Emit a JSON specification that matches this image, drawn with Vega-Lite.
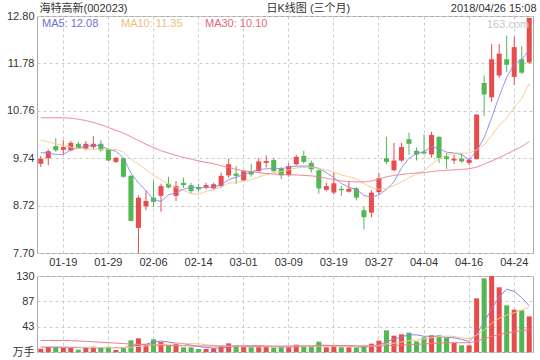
{
"$schema": "https://vega.github.io/schema/vega-lite/v6.json",
"padding": {"left": 5, "top": 1, "right": 2, "bottom": 2},
"background": "white",
"config": {
  "font": "Liberation Sans, Noto Sans CJK SC",
  "view": {"stroke": "#aaaaaa", "strokeWidth": 1},
  "axis": {"labelFont": "Liberation Sans, Noto Sans CJK SC", "labelFontSize": 11, "labelColor": "#333333", "ticks": false, "tickSize": 0, "domain": false, "gridColor": "#cccccc", "gridDash": [3, 3], "gridWidth": 1, "labelPadding": 3, "titleFont": "Liberation Sans, Noto Sans CJK SC", "titleFontSize": 11, "titleFontWeight": "normal", "titleColor": "#333333"}
},
"datasets": {"k": [
{"d":"01-16","o":9.62,"h":9.79,"l":9.55,"c":9.73,"v":5.7,"m5":9.86,"m10":10.13,"m30":10.61,"v5":8.5,"v10":9.5,"v30":19.7},
{"d":"01-17","o":9.74,"h":9.93,"l":9.59,"c":9.89,"v":9.1,"m5":9.85,"m10":10.09,"m30":10.61,"v5":8.3,"v10":9.3,"v30":19.7},
{"d":"01-18","o":10.00,"h":10.17,"l":9.88,"c":9.91,"v":9.1,"m5":9.82,"m10":10.05,"m30":10.61,"v5":8.0,"v10":9.0,"v30":19.7},
{"d":"01-19","o":9.92,"h":10.13,"l":9.82,"c":9.98,"v":8.0,"m5":9.82,"m10":10.01,"m30":10.61,"v5":8.0,"v10":8.8,"v30":19.7},
{"d":"01-22","o":9.91,"h":10.11,"l":9.89,"c":10.07,"v":6.8,"m5":9.92,"m10":9.98,"m30":10.60,"v5":7.74,"v10":8.6,"v30":19.3},
{"d":"01-23","o":10.05,"h":10.09,"l":9.94,"c":9.97,"v":4.0,"m5":9.96,"m10":9.95,"m30":10.58,"v5":7.4,"v10":8.3,"v30":18.8},
{"d":"01-24","o":9.94,"h":10.11,"l":9.91,"c":10.05,"v":7.4,"m5":10.00,"m10":9.94,"m30":10.55,"v5":7.06,"v10":8.0,"v30":18.2},
{"d":"01-25","o":9.98,"h":10.22,"l":9.93,"c":10.05,"v":9.1,"m5":10.02,"m10":9.93,"m30":10.51,"v5":7.06,"v10":7.8,"v30":17.5},
{"d":"01-26","o":10.05,"h":10.13,"l":9.88,"c":9.91,"v":7.4,"m5":10.01,"m10":9.93,"m30":10.46,"v5":6.94,"v10":7.6,"v30":16.8},
{"d":"01-29","o":9.93,"h":9.95,"l":9.68,"c":9.69,"v":9.1,"m5":9.93,"m10":9.93,"m30":10.40,"v5":7.4,"v10":7.57,"v30":16.0},
{"d":"01-30","o":9.66,"h":9.77,"l":9.64,"c":9.75,"v":3.4,"m5":9.89,"m10":9.93,"m30":10.34,"v5":7.28,"v10":7.34,"v30":15.2},
{"d":"01-31","o":9.74,"h":9.75,"l":9.32,"c":9.34,"v":8.0,"m5":9.75,"m10":9.87,"m30":10.28,"v5":7.4,"v10":7.23,"v30":14.4},
{"d":"02-01","o":9.36,"h":9.38,"l":8.38,"c":8.39,"v":20.0,"m5":9.42,"m10":9.72,"m30":10.20,"v5":9.58,"v10":8.32,"v30":13.6},
{"d":"02-02","o":8.24,"h":8.94,"l":7.70,"c":8.89,"v":23.4,"m5":9.21,"m10":9.61,"m30":10.12,"v5":12.78,"v10":9.86,"v30":13.0},
{"d":"02-05","o":8.70,"h":9.05,"l":8.62,"c":8.82,"v":12.0,"m5":9.04,"m10":9.49,"m30":10.04,"v5":13.36,"v10":10.38,"v30":12.5},
{"d":"02-06","o":8.89,"h":9.26,"l":8.69,"c":8.80,"v":21.7,"m5":8.85,"m10":9.37,"m30":9.97,"v5":17.02,"v10":12.15,"v30":12.0},
{"d":"02-07","o":8.93,"h":9.19,"l":8.59,"c":9.14,"v":17.1,"m5":8.81,"m10":9.28,"m30":9.90,"v5":18.84,"v10":13.12,"v30":11.6},
{"d":"02-08","o":9.19,"h":9.34,"l":9.09,"c":9.11,"v":11.4,"m5":8.95,"m10":9.18,"m30":9.85,"v5":17.12,"v10":13.35,"v30":11.2},
{"d":"02-09","o":8.93,"h":9.25,"l":8.82,"c":9.14,"v":13.7,"m5":9.00,"m10":9.11,"m30":9.80,"v5":15.18,"v10":13.98,"v30":10.9},
{"d":"02-12","o":9.21,"h":9.32,"l":9.10,"c":9.16,"v":8.0,"m5":9.07,"m10":9.05,"m30":9.76,"v5":14.38,"v10":13.87,"v30":10.7},
{"d":"02-13","o":9.16,"h":9.21,"l":8.99,"c":9.03,"v":8.0,"m5":9.12,"m10":8.98,"m30":9.72,"v5":11.64,"v10":14.33,"v30":10.5},
{"d":"02-14","o":9.12,"h":9.19,"l":9.03,"c":9.07,"v":5.1,"m5":9.10,"m10":8.96,"m30":9.68,"v5":9.24,"v10":14.04,"v30":10.4},
{"d":"02-22","o":9.11,"h":9.21,"l":9.07,"c":9.16,"v":5.1,"m5":9.11,"m10":9.03,"m30":9.65,"v5":7.98,"v10":12.55,"v30":10.3},
{"d":"02-23","o":9.09,"h":9.21,"l":9.07,"c":9.18,"v":6.3,"m5":9.12,"m10":9.06,"m30":9.62,"v5":6.5,"v10":10.84,"v30":10.2},
{"d":"02-26","o":9.14,"h":9.43,"l":9.10,"c":9.36,"v":9.7,"m5":9.16,"m10":9.12,"m30":9.58,"v5":6.84,"v10":10.61,"v30":10.2},
{"d":"02-27","o":9.37,"h":9.73,"l":9.32,"c":9.61,"v":14.8,"m5":9.28,"m10":9.20,"m30":9.54,"v5":8.2,"v10":9.92,"v30":10.2},
{"d":"02-28","o":9.41,"h":9.57,"l":9.18,"c":9.36,"v":11.4,"m5":9.33,"m10":9.22,"m30":9.50,"v5":9.46,"v10":9.35,"v30":10.1},
{"d":"03-01","o":9.26,"h":9.48,"l":9.25,"c":9.46,"v":9.1,"m5":9.39,"m10":9.25,"m30":9.47,"v5":10.26,"v10":9.12,"v30":10.1},
{"d":"03-02","o":9.45,"h":9.62,"l":9.34,"c":9.39,"v":8.5,"m5":9.44,"m10":9.28,"m30":9.45,"v5":10.7,"v10":8.6,"v30":10.1},
{"d":"03-05","o":9.46,"h":9.74,"l":9.45,"c":9.67,"v":9.7,"m5":9.50,"m10":9.33,"m30":9.43,"v5":10.7,"v10":8.77,"v30":10.07},
{"d":"03-06","o":9.64,"h":9.80,"l":9.54,"c":9.68,"v":9.7,"m5":9.51,"m10":9.39,"m30":9.41,"v5":9.68,"v10":8.94,"v30":10.2},
{"d":"03-07","o":9.70,"h":9.74,"l":9.45,"c":9.46,"v":7.4,"m5":9.53,"m10":9.43,"m30":9.40,"v5":8.88,"v10":9.17,"v30":10.15},
{"d":"03-08","o":9.52,"h":9.55,"l":9.29,"c":9.37,"v":8.0,"m5":9.51,"m10":9.45,"m30":9.39,"v5":8.66,"v10":9.46,"v30":10.11},
{"d":"03-09","o":9.38,"h":9.64,"l":9.34,"c":9.57,"v":8.0,"m5":9.55,"m10":9.49,"m30":9.38,"v5":8.56,"v10":9.63,"v30":10.11},
{"d":"03-12","o":9.61,"h":9.81,"l":9.59,"c":9.77,"v":12.5,"m5":9.57,"m10":9.53,"m30":9.38,"v5":9.12,"v10":9.91,"v30":10.3},
{"d":"03-13","o":9.79,"h":9.90,"l":9.62,"c":9.66,"v":10.8,"m5":9.57,"m10":9.54,"m30":9.37,"v5":9.34,"v10":9.51,"v30":10.53},
{"d":"03-14","o":9.64,"h":9.69,"l":9.43,"c":9.50,"v":8.5,"m5":9.57,"m10":9.55,"m30":9.36,"v5":9.56,"v10":9.22,"v30":10.56},
{"d":"03-15","o":9.48,"h":9.50,"l":8.98,"c":9.09,"v":17.7,"m5":9.52,"m10":9.52,"m30":9.34,"v5":11.5,"v10":10.08,"v30":10.85},
{"d":"03-16","o":9.06,"h":9.21,"l":9.03,"c":9.14,"v":8.0,"m5":9.43,"m10":9.49,"m30":9.31,"v5":11.5,"v10":10.03,"v30":10.87},
{"d":"03-19","o":9.00,"h":9.43,"l":8.96,"c":9.20,"v":9.7,"m5":9.32,"m10":9.44,"m30":9.28,"v5":10.94,"v10":10.03,"v30":10.89},
{"d":"03-20","o":9.08,"h":9.14,"l":8.93,"c":9.05,"v":8.0,"m5":9.20,"m10":9.38,"m30":9.25,"v5":10.38,"v10":9.86,"v30":11.04},
{"d":"03-21","o":9.02,"h":9.25,"l":9.00,"c":9.08,"v":8.0,"m5":9.11,"m10":9.34,"m30":9.24,"v5":10.28,"v10":9.92,"v30":11.04},
{"d":"03-22","o":9.09,"h":9.12,"l":8.83,"c":8.89,"v":6.8,"m5":9.07,"m10":9.30,"m30":9.23,"v5":8.1,"v10":9.8,"v30":10.6},
{"d":"03-23","o":8.62,"h":8.70,"l":8.21,"c":8.47,"v":10.8,"m5":8.94,"m10":9.19,"m30":9.23,"v5":8.66,"v10":10.08,"v30":10.18},
{"d":"03-26","o":8.57,"h":9.05,"l":8.47,"c":9.00,"v":14.3,"m5":8.90,"m10":9.11,"m30":9.25,"v5":9.58,"v10":10.26,"v30":10.26},
{"d":"03-27","o":9.01,"h":9.42,"l":8.95,"c":9.31,"v":19.4,"m5":8.95,"m10":9.07,"m30":9.29,"v5":11.86,"v10":11.12,"v30":10.18},
{"d":"03-28","o":9.74,"h":10.20,"l":9.61,"c":9.66,"v":37.0,"m5":9.07,"m10":9.09,"m30":9.34,"v5":17.66,"v10":13.97,"v30":10.85},
{"d":"03-29","o":9.48,"h":10.07,"l":9.46,"c":9.69,"v":27.9,"m5":9.23,"m10":9.15,"m30":9.37,"v5":21.88,"v10":14.99,"v30":11.4},
{"d":"03-30","o":9.69,"h":10.07,"l":9.66,"c":9.98,"v":30.2,"m5":9.53,"m10":9.23,"m30":9.39,"v5":25.76,"v10":17.21,"v30":11.95},
{"d":"04-02","o":10.15,"h":10.29,"l":9.82,"c":10.05,"v":33.1,"m5":9.74,"m10":9.32,"m30":9.41,"v5":29.52,"v10":19.55,"v30":12.78},
{"d":"04-03","o":9.90,"h":9.97,"l":9.69,"c":9.82,"v":18.2,"m5":9.84,"m10":9.40,"m30":9.42,"v5":29.28,"v10":20.57,"v30":13.12},
{"d":"04-04","o":9.88,"h":10.25,"l":9.82,"c":9.84,"v":25.1,"m5":9.88,"m10":9.47,"m30":9.43,"v5":26.9,"v10":22.28,"v30":13.79},
{"d":"04-09","o":9.82,"h":10.31,"l":9.75,"c":10.24,"v":28.5,"m5":9.99,"m10":9.61,"m30":9.45,"v5":27.02,"v10":24.45,"v30":14.57},
{"d":"04-10","o":10.20,"h":10.21,"l":9.64,"c":9.74,"v":28.5,"m5":9.94,"m10":9.73,"m30":9.47,"v5":26.68,"v10":26.22,"v30":15.31},
{"d":"04-11","o":9.78,"h":9.85,"l":9.51,"c":9.72,"v":23.9,"m5":9.87,"m10":9.81,"m30":9.48,"v5":24.84,"v10":27.18,"v30":15.78},
{"d":"04-12","o":9.69,"h":9.82,"l":9.62,"c":9.73,"v":15.4,"m5":9.85,"m10":9.85,"m30":9.49,"v5":24.28,"v10":26.78,"v30":15.8},
{"d":"04-13","o":9.73,"h":9.84,"l":9.64,"c":9.67,"v":11.4,"m5":9.82,"m10":9.85,"m30":9.50,"v5":21.54,"v10":24.22,"v30":15.8},
{"d":"04-16","o":9.64,"h":9.74,"l":9.59,"c":9.71,"v":11.4,"m5":9.71,"m10":9.85,"m30":9.51,"v5":18.12,"v10":22.57,"v30":15.88},
{"d":"04-17","o":9.72,"h":10.68,"l":9.71,"c":10.68,"v":91.8,"m5":9.90,"m10":9.92,"m30":9.55,"v5":30.78,"v10":28.73,"v30":18.66},
{"d":"04-18","o":11.36,"h":11.52,"l":10.65,"c":11.11,"v":126,"m5":10.18,"m10":10.03,"m30":9.61,"v5":51.2,"v10":38.02,"v30":22.53},
{"d":"04-19","o":11.05,"h":12.20,"l":10.95,"c":11.87,"v":130,"m5":10.61,"m10":10.23,"m30":9.68,"v5":74.12,"v10":49.2,"v30":26.54},
{"d":"04-20","o":11.52,"h":12.20,"l":11.47,"c":11.99,"v":110.6,"m5":11.07,"m10":10.45,"m30":9.75,"v5":93.96,"v10":57.75,"v30":29.98},
{"d":"04-23","o":11.87,"h":12.38,"l":11.59,"c":11.75,"v":79.8,"m5":11.48,"m10":10.60,"m30":9.83,"v5":107.64,"v10":62.88,"v30":32.38},
{"d":"04-24","o":11.49,"h":12.36,"l":11.32,"c":12.13,"v":72.4,"m5":11.77,"m10":10.84,"m30":9.91,"v5":103.76,"v10":67.27,"v30":34.52},
{"d":"04-25","o":11.87,"h":12.15,"l":11.55,"c":11.58,"v":71.2,"m5":11.86,"m10":11.02,"m30":9.99,"v5":92.8,"v10":72.0,"v30":36.48},
{"d":"04-26","o":11.80,"h":12.76,"l":11.77,"c":12.76,"v":60.9,"m5":12.08,"m10":11.35,"m30":10.10,"v5":78.98,"v10":76.55,"v30":38.15}
]},
"data": {"name": "k"},
"spacing": 1,
"resolve": {"scale": {"color": "independent", "strokeDash": "independent"}},
"vconcat": [
  {
    "width": 496,
    "height": 237,
    "resolve": {"axis": {"x": "independent", "y": "independent"}},
    "layer": [
      {
        "mark": {"type": "rule", "strokeWidth": 1},
        "encoding": {
          "x": {"field": "d", "type": "ordinal", "sort": null, "scale": {"paddingInner": 0.33, "paddingOuter": 0.165},
                "axis": {"orient": "bottom", "values": ["01-19","01-29","02-06","02-14","03-01","03-09","03-19","03-27","04-04","04-16","04-24"], "bandPosition": 0.5, "grid": true, "labelAngle": 0, "labelOverlap": false, "title": "日K线图 (三个月)", "titleX": 229, "titleY": -245, "titleAlign": "left", "titleBaseline": "middle", "titleAngle": 0}},
          "y": {"field": "l", "type": "quantitative", "scale": {"domain": [7.7, 12.8], "nice": false, "zero": false},
                "axis": {"orient": "left", "values": [7.7, 8.72, 9.74, 10.76, 11.78, 12.8], "format": ".2f", "grid": true, "minExtent": 30, "maxExtent": 30, "title": null}},
          "y2": {"field": "h"},
          "color": {"condition": {"test": "datum.c >= datum.o", "value": "#e84d4d"}, "value": "#52b852"}
        }
      },
      {
        "mark": {"type": "bar"},
        "encoding": {
          "x": {"field": "d", "type": "ordinal", "sort": null, "scale": {"paddingInner": 0.33, "paddingOuter": 0.165},
                "axis": {"orient": "top", "labels": false, "grid": false, "title": "海特高新(002023)", "titleX": 2, "titleY": -8, "titleAlign": "left", "titleBaseline": "middle", "titleAngle": 0}},
          "y": {"field": "o", "type": "quantitative",
                "axis": {"orient": "right", "labels": false, "grid": false, "title": "2018/04/26 15:08", "titleAngle": 0, "titleAlign": "right", "titleBaseline": "middle", "titleX": 3, "titleY": -8}},
          "y2": {"field": "c"},
          "color": {"condition": {"test": "datum.c >= datum.o", "value": "#e84d4d"}, "value": "#52b852"}
        }
      },
      {
        "transform": [{"fold": ["m5", "m10", "m30"], "as": ["k", "val"]}],
        "mark": {"type": "line", "strokeWidth": 1},
        "encoding": {
          "x": {"field": "d", "type": "ordinal", "sort": null, "scale": {"paddingInner": 0.33, "paddingOuter": 0.165}, "axis": null},
          "y": {"field": "val", "type": "quantitative", "axis": null},
          "color": {"field": "k", "type": "nominal", "scale": {"domain": ["m5", "m10", "m30"], "range": ["#8585ec", "#f7c689", "#ee7d87"]},
                    "legend": {"orient": "top-left", "direction": "horizontal", "title": null, "offset": 2, "padding": 0, "symbolSize": 0, "symbolStrokeWidth": 0, "labelOffset": -8, "columnPadding": 19, "labelFontSize": 11, "labelFont": "Liberation Sans",
                               "labelExpr": "datum.value == 'm5' ? 'MA5: 12.08' : (datum.value == 'm10' ? 'MA10: 11.35' : 'MA30: 10.10')",
                               "encode": {"labels": {"update": {"fill": {"signal": "datum.value == 'm5' ? '#6e6edc' : (datum.value == 'm10' ? '#f2bd74' : '#e3677a')"}}}}}},
          "strokeDash": {"datum": "163.com", "type": "nominal", "scale": {"range": [[1, 0]]},
                    "legend": {"orient": "top-right", "title": null, "offset": 3, "padding": 0, "symbolSize": 0, "symbolStrokeWidth": 0, "symbolOpacity": 0, "labelOffset": -8, "labelFontSize": 11, "labelFont": "Liberation Sans", "labelColor": "#c8c8c8"}}
        }
      }
    ]
  },
  {
    "width": 496,
    "height": 76,
    "resolve": {"axis": {"x": "independent", "y": "independent"}},
    "layer": [
      {
        "mark": {"type": "bar"},
        "encoding": {
          "x": {"field": "d", "type": "ordinal", "sort": null, "scale": {"paddingInner": 0.33, "paddingOuter": 0.165},
                "axis": {"orient": "bottom", "values": ["01-19","01-29","02-06","02-14","03-01","03-09","03-19","03-27","04-04","04-16","04-24"], "bandPosition": 0.5, "grid": true, "labels": false, "title": null}},
          "y": {"field": "v", "type": "quantitative", "scale": {"domain": [0, 130], "nice": false},
                "axis": {"orient": "left", "values": [0, 43, 87, 130], "labelExpr": "datum.value == 0 ? '万手' : datum.label", "grid": true, "labelOverlap": false, "minExtent": 30, "maxExtent": 30, "title": null}},
          "color": {"condition": {"test": "datum.c >= datum.o", "value": "#e84d4d"}, "value": "#52b852"}
        }
      },
      {
        "mark": {"type": "line", "strokeWidth": 1, "color": "#8585ec"},
        "encoding": {
          "x": {"field": "d", "type": "ordinal", "sort": null, "scale": {"paddingInner": 0.33, "paddingOuter": 0.165}, "axis": null},
          "y": {"field": "v5", "type": "quantitative", "axis": null}
        }
      },
      {
        "mark": {"type": "line", "strokeWidth": 1, "color": "#f7c689"},
        "encoding": {
          "x": {"field": "d", "type": "ordinal", "sort": null, "scale": {"paddingInner": 0.33, "paddingOuter": 0.165}, "axis": null},
          "y": {"field": "v10", "type": "quantitative", "axis": null}
        }
      },
      {
        "mark": {"type": "line", "strokeWidth": 1, "color": "#ee7d87"},
        "encoding": {
          "x": {"field": "d", "type": "ordinal", "sort": null, "scale": {"paddingInner": 0.33, "paddingOuter": 0.165}, "axis": null},
          "y": {"field": "v30", "type": "quantitative", "axis": null}
        }
      }
    ]
  }
]
}
